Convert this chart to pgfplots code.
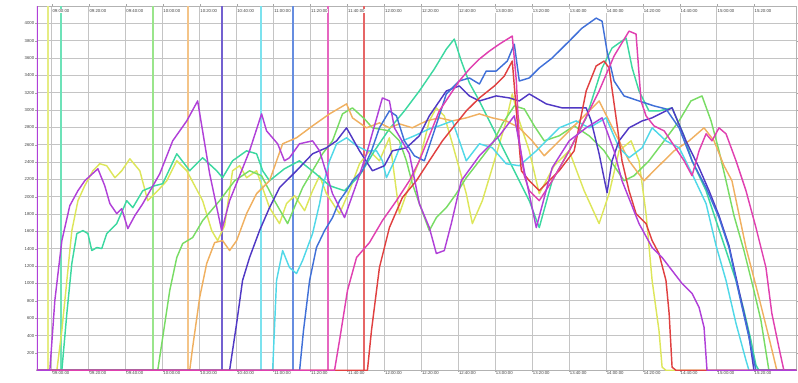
\documentclass[border=0pt]{standalone}
\usepackage{pgfplots}
\pgfplotsset{compat=1.18}
\usepackage{fontspec}
\setmainfont{Liberation Sans}
\definecolor{cA}{HTML}{B040D8}
\definecolor{cB}{HTML}{DDE65A}
\definecolor{cC}{HTML}{3CD8A0}
\definecolor{cD}{HTML}{78DC64}
\definecolor{cE}{HTML}{F0B060}
\definecolor{cF}{HTML}{5038C4}
\definecolor{cG}{HTML}{50D8E8}
\definecolor{cH}{HTML}{4070D8}
\definecolor{cI}{HTML}{E040B0}
\definecolor{cJ}{HTML}{E04040}
\definecolor{gridc}{HTML}{C4C4C4}
\begin{document}
\begin{tikzpicture}
\begin{axis}[
  name=main,
  scale only axis, width=761pt, height=365pt,
  xmin=-8.1, xmax=403, ymin=0, ymax=4200,
  xtick={0,20,...,380},
  xticklabels={09:00:00,09:20:00,09:40:00,10:00:00,10:20:00,10:40:00,11:00:00,11:20:00,11:40:00,12:00:00,12:20:00,12:40:00,13:00:00,13:20:00,13:40:00,14:00:00,14:20:00,14:40:00,15:00:00,15:20:00},
  ytick={200,400,...,4000},
  grid=major, grid style={draw=gridc, line width=1pt},
  axis line style={draw=gray!60},
  tick align=outside, major tick length=1.5pt,
  tick style={draw=gray!70},
  ticklabel style={font=\fontsize{4.3}{5}\selectfont, text=black!75},
  xticklabel style={anchor=north west, inner sep=0.5pt, yshift=1pt},
  yticklabel style={inner sep=1pt, /pgf/number format/assume math mode=true, /pgf/number format/1000 sep={}},
  every axis plot/.append style={line width=1.45pt, mark=none, line join=round},
]
% start markers
\addplot[cA, line width=2pt] coordinates {(-8.1,0) (-8.1,4200)};
\addplot[cB!75, line width=2pt] coordinates {(-2.2,0) (-2.2,4200)};
\addplot[cC!75, line width=2pt] coordinates {(4.9,0) (4.9,4200)};
\addplot[cD!75, line width=2pt] coordinates {(54.6,0) (54.6,4200)};
\addplot[cE!75, line width=2pt] coordinates {(73.5,0) (73.5,4200)};
\addplot[cF!80, line width=2pt] coordinates {(91.9,0) (91.9,4200)};
\addplot[cG!75, line width=2pt] coordinates {(113.0,0) (113.0,4200)};
\addplot[cH!80, line width=2pt] coordinates {(130.3,0) (130.3,4200)};
\addplot[cI!80, line width=2pt] coordinates {(149.2,0) (149.2,4200)};
\addplot[cJ!80, line width=2pt] coordinates {(169.2,0) (169.2,4200)};
% B yellow
\addplot[cB] coordinates {(-8.1,0)(2.7,0)(5.4,460)(8.1,1035)(10.8,1610)(14.1,1955)(17.8,2128)(22.2,2300)(25.9,2381)(29.7,2358)(34.1,2220)(37.8,2300)(42.2,2438)(47.6,2300)(51.9,1955)(57.3,2070)(62.2,2185)(67.6,2415)(73,2300)(77.3,2128)(81.6,1955)(86.5,1610)(89.7,1495)(93.5,1668)(97.8,2300)(101.6,2358)(105.4,2220)(110.8,2300)(117.8,1875)(123.2,1691)(127,1921)(131.4,2013)(136.8,1840)(141.1,2070)(144.9,2243)(148.6,2036)(155.7,1806)(161.1,2070)(166.5,2381)(171.9,2530)(177.3,2415)(182.7,2680)(188.1,1806)(191.9,2036)(198.9,2415)(204.3,2875)(208.1,3025)(212.4,2933)(216.8,2611)(224.3,2036)(227.6,1691)(233,1955)(238.4,2335)(245.9,2875)(249.2,3186)(253,2875)(258.4,2530)(263.8,2036)(271.9,2358)(280,2530)(288.1,2070)(296.2,1691)(301.6,2036)(307,2530)(313.5,2645)(317.8,2415)(321.6,1806)(324.9,1035)(328.6,460)(330.3,35)(332.4,0)(403,0)};
% C mint
\addplot[cC] coordinates {(-8.1,0)(5.4,0)(8.1,656)(10.8,1231)(13.5,1576)(16.8,1610)(19.5,1576)(21.6,1380)(24.3,1415)(27,1403)(29.7,1576)(35.1,1691)(40.5,1955)(43.8,1875)(49.2,2070)(55.7,2128)(60,2151)(67.6,2496)(74.6,2300)(81.6,2450)(89.2,2300)(92.4,2220)(97.8,2415)(105.4,2530)(110.8,2496)(114.1,2300)(117.8,2185)(125.9,2323)(134,2415)(142.2,2277)(150.3,2128)(158.4,2070)(166.5,2243)(174.6,2530)(182.7,2783)(190.8,2990)(198.9,3220)(207,3473)(213.5,3703)(217.8,3818)(221.6,3565)(226,3312)(231.4,3105)(236.8,2875)(242.2,2645)(247.6,2415)(253,2185)(258.4,1955)(263.8,1645)(270.8,2185)(280,2530)(289.2,2910)(297.8,3485)(303.2,3715)(310.8,3830)(314.1,3485)(317.8,3220)(323.2,2990)(328.6,2990)(335.7,3025)(342.2,2703)(346.5,2415)(350.3,2243)(354.1,2070)(359.5,1725)(364.9,1380)(370.3,1035)(374.6,690)(378.4,345)(381.1,58)(382.7,0)(403,0)};
% D light green
\addplot[cD] coordinates {(-8.1,0)(57.3,0)(60,380)(63.8,920)(67.6,1300)(70.8,1461)(76.2,1530)(81.6,1725)(90.8,1955)(98.9,2185)(107,2300)(113.5,2243)(120.5,1955)(127.6,1691)(135.7,2105)(141.1,2300)(146.5,2496)(151.9,2645)(157.3,2956)(162.7,3025)(169.2,2898)(173.5,2795)(182.7,2760)(188.1,2645)(191.9,2415)(195.1,2151)(198.9,1921)(204.3,1610)(208.1,1760)(213.5,1875)(218.9,2036)(224.3,2220)(231.4,2415)(238.4,2611)(243.8,2841)(250.3,3048)(255.7,3013)(261.1,2818)(266.5,2645)(274.6,2703)(282.7,2818)(290.8,2703)(298.9,2530)(304.3,2358)(309.7,2185)(315.1,2243)(323.2,2415)(331.4,2645)(339.5,2875)(345.9,3105)(351.9,3163)(356.8,2875)(361.1,2530)(364.9,2185)(369.2,1783)(374.6,1380)(380,920)(383.8,575)(388.1,0)(403,0)};
% E orange
\addplot[cE] coordinates {(-8.1,0)(74.6,0)(76.2,265)(80,840)(83.8,1231)(88.1,1472)(92.4,1495)(96.2,1380)(100,1495)(105.4,1806)(110.8,2036)(117.8,2185)(124.9,2611)(132.4,2680)(141.1,2818)(150.3,2956)(159.5,3071)(162.7,2910)(170.3,2795)(177.3,2852)(182.7,2795)(188.1,2841)(195.1,2795)(202.7,2875)(209.7,2910)(216.8,2875)(224.3,2910)(231.4,2956)(238.4,2910)(245.9,2875)(253,2795)(260,2645)(266.5,2473)(274.6,2645)(282.7,2818)(290.8,2990)(296.2,3105)(301.6,2875)(307,2645)(312.4,2415)(320.5,2185)(328.6,2358)(336.8,2530)(344.9,2645)(353,2795)(358.4,2645)(363.8,2358)(368.1,2185)(375.7,1415)(382.7,840)(388.1,380)(392.4,0)(403,0)};
% G cyan
\addplot[cG] coordinates {(-8.1,0)(119.5,0)(121.6,1035)(124.9,1380)(128.6,1185)(132.4,1115)(135.7,1265)(141.1,1576)(144.9,1921)(146.5,2105)(150.3,2415)(154.1,2611)(159.5,2680)(164.9,2588)(170.3,2530)(175.7,2530)(178.9,2415)(181.1,2220)(185.4,2415)(189.7,2645)(196.2,2703)(204.3,2783)(209.7,2818)(216.8,2875)(224.3,2415)(231.4,2611)(238.4,2565)(245.9,2381)(253,2358)(262.2,2530)(274.6,2795)(283.8,2875)(290.8,2795)(300,2910)(307,2565)(312.4,2450)(319.5,2565)(324.9,2795)(332.4,2645)(339.5,2565)(346.5,2266)(354.1,1921)(359.5,1438)(364.9,1035)(370.3,540)(375.7,115)(377.3,0)(403,0)};
% F blue-violet
\addplot[cF] coordinates {(-8.1,0)(96.2,0)(100,540)(103.2,1035)(107,1300)(112.4,1610)(117.8,1875)(123.2,2105)(132.4,2300)(141.1,2496)(148.6,2565)(154.1,2645)(159.5,2795)(166.5,2530)(173.5,2300)(180,2358)(184.3,2530)(191.9,2565)(198.9,2703)(204.3,2933)(213.5,3220)(220.5,3278)(226,3163)(231.4,3105)(240.5,3163)(247.6,3140)(253,3105)(258.4,3186)(267.6,3071)(276.2,3025)(283.8,3025)(289.2,3025)(291.9,2875)(296.2,2496)(300.5,2047)(303.2,2415)(307,2645)(312.4,2795)(319.5,2875)(324.9,2910)(332.4,2990)(335.7,3025)(343.2,2645)(350.3,2335)(355.7,2070)(361.1,1783)(366.5,1438)(371.9,920)(377.3,403)(380,0)(403,0)};
% H blue
\addplot[cH] coordinates {(-8.1,0)(134.1,0)(136.2,460)(139.5,1035)(143.2,1415)(147.6,1610)(151.9,1760)(155.7,1955)(159.5,2070)(162.7,2185)(168.1,2300)(173,2530)(177.3,2795)(182.7,2990)(186.5,2933)(190.8,2645)(196.2,2473)(201.6,2415)(207,2760)(213.5,3186)(220.5,3335)(226,3370)(231.4,3300)(235.1,3450)(240.5,3450)(246.5,3565)(250.3,3760)(253,3335)(258.4,3370)(263.8,3485)(270.8,3600)(280,3795)(287,3945)(294.6,4060)(297.8,4025)(300.5,3680)(304.3,3335)(309.7,3163)(317.8,3105)(325.9,3048)(332.4,3013)(339.5,2795)(346.5,2415)(354.1,2105)(361.1,1760)(366.5,1415)(371.9,886)(377.3,380)(381.1,0)(403,0)};
% J red
\addplot[cJ] coordinates {(-8.1,0)(170.8,0)(173,460)(177.3,1185)(182.7,1645)(189.7,1990)(197.3,2185)(204.3,2415)(211.4,2645)(217.8,2818)(224.3,2990)(231.4,3140)(239.5,3278)(244.9,3393)(249.2,3565)(251.4,2990)(254.1,2300)(258.4,2185)(263.8,2070)(269.2,2185)(274.6,2300)(282.7,2530)(289.2,3220)(294.6,3508)(298.9,3565)(301.6,3485)(305.4,2910)(308.6,2415)(312.4,2070)(316.2,1806)(321.6,1691)(324.9,1495)(328.6,1346)(332.4,1035)(334.1,656)(335.7,35)(337.8,0)(403,0)};
% I pink
\addplot[cI] coordinates {(-8.1,0)(153,0)(155.7,345)(160,920)(164.9,1300)(171.9,1472)(178.9,1725)(186.5,1955)(193.5,2185)(198.9,2415)(204.3,2703)(209.7,2990)(215.1,3163)(220.5,3335)(226,3473)(231.4,3588)(236.8,3680)(242.2,3760)(249.2,3853)(251.4,3335)(253,2645)(255.7,2243)(258.4,2070)(263.8,1955)(270.8,2185)(280,2530)(288.1,2875)(296.2,3220)(304.3,3623)(312.4,3910)(316.2,3876)(318.9,3105)(321.6,2933)(325.9,2818)(331.4,2760)(336.8,2588)(342.2,2415)(346.5,2243)(350.3,2530)(354.1,2726)(357.3,2645)(361.1,2795)(364.9,2726)(370.3,2415)(375.7,2070)(381.1,1645)(386.5,1185)(389.7,656)(393.5,265)(396.2,0)(403,0)};
% A violet
\addplot[cA] coordinates {(-8.1,0)(-1.1,0)(1.6,805)(5.4,1495)(9.7,1898)(14.1,2070)(17.8,2185)(24.9,2323)(28.6,2128)(31.4,1921)(35.1,1806)(37.8,1863)(41.1,1633)(44.9,1783)(49.2,1921)(58.4,2266)(65.4,2645)(73,2875)(78.9,3105)(85.4,2266)(91.9,1610)(96.2,1955)(107,2530)(113.5,2956)(116.2,2760)(122.2,2611)(125.9,2415)(128.6,2450)(134,2611)(141.1,2645)(144.9,2530)(151.9,2036)(158.4,1760)(164.9,2151)(170.3,2496)(178.9,3140)(182.7,3105)(185.4,2795)(193.5,2496)(198.9,1921)(204.3,1645)(208.1,1346)(212.4,1380)(216.2,1691)(221.6,2185)(231.4,2473)(242.2,2703)(250.3,2933)(255.7,2300)(262.2,1645)(270.8,2335)(280,2645)(289.2,2795)(297.8,2910)(304.3,2530)(308.6,2185)(317.8,1691)(324.9,1415)(330.3,1300)(335.7,1150)(341.1,1000)(346.5,886)(350.3,725)(353,495)(354.6,0)(403,0)};
\end{axis}
\begin{axis}[
  at={(main.south west)}, anchor=south west,
  scale only axis, width=761pt, height=365pt,
  xmin=-8.1, xmax=403, ymin=0, ymax=4200,
  xtick={0,20,...,380},
  xticklabels={09:00:00,09:20:00,09:40:00,10:00:00,10:20:00,10:40:00,11:00:00,11:20:00,11:40:00,12:00:00,12:20:00,12:40:00,13:00:00,13:20:00,13:40:00,14:00:00,14:20:00,14:40:00,15:00:00,15:20:00},
  xticklabel pos=upper, ytick=\empty,
  axis line style={draw=none}, major tick length=0pt,
  ticklabel style={font=\fontsize{4.3}{5}\selectfont, text=black!75},
  xticklabel style={anchor=north west, inner sep=0.5pt, yshift=-3pt, fill=white},
]
\end{axis}
\path ([xshift=-37pt,yshift=-12pt]main.south west) rectangle ([yshift=6pt]main.north east);
\end{tikzpicture}
\end{document}
